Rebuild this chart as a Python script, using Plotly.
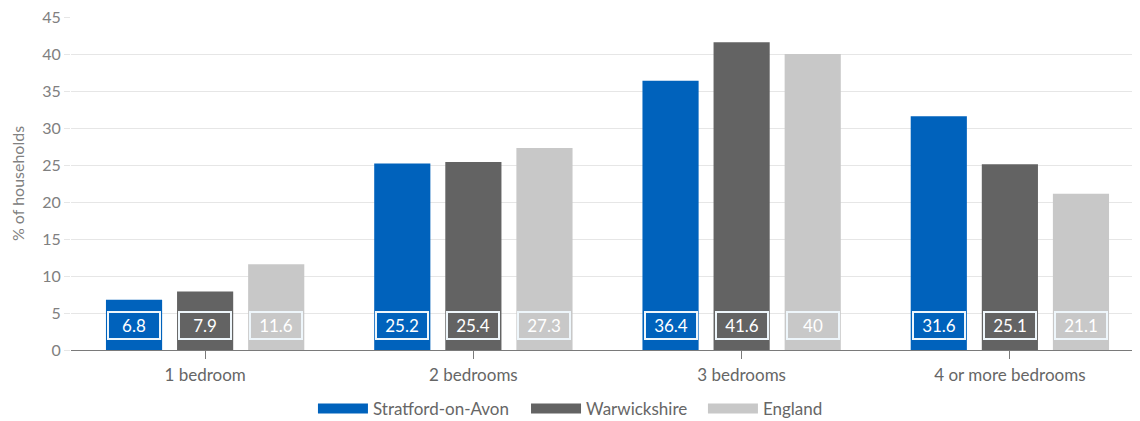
import plotly.graph_objects as go

categories = ["1 bedroom", "2 bedrooms", "3 bedrooms", "4 or more bedrooms"]
series_names = ["Stratford-on-Avon", "Warwickshire", "England"]
stratford = [6.8, 25.2, 36.4, 31.6]
warwickshire = [7.9, 25.4, 41.6, 25.1]
england = [11.6, 27.3, 40, 21.1]
y_ticks = [0, 5, 10, 15, 20, 25, 30, 35, 40, 45]

colors = ["#0062bc", "#636363", "#c8c8c8"]
all_values = [stratford, warwickshire, england]
legend_ids = ["legend", "legend2", "legend3"]
legend_x = [0.2675, 0.4544, 0.6096]

FONT = "Lato, 'Open Sans', sans-serif"

fig = go.Figure()
for name, vals, col in zip(series_names, all_values, colors):
    fig.add_trace(go.Bar(x=categories, y=vals, name=name, marker_color=col,
                         marker_line_width=0, hoverinfo="x+y+name", showlegend=False,
                         legendgroup=name))
# legend entries drawn as wide swatches, one legend per entry for exact spacing
for name, col, lid in zip(series_names, colors, legend_ids):
    fig.add_trace(go.Scatter(x=[None], y=[None], mode="lines", name=name,
                             line=dict(color=col, width=14), legendgroup=name,
                             legend=lid, hoverinfo="skip"))

slot = 71
for i, (vals, col) in enumerate(zip(all_values, colors)):
    for cat, v in zip(categories, vals):
        fig.add_annotation(x=cat, y=0, xref="x", yref="y", text=f"{v:g}",
                           showarrow=False, xshift=(i - 1) * slot, yanchor="bottom",
                           yshift=10, bgcolor=col, bordercolor="#eef6fb", borderwidth=2,
                           borderpad=2, width=46,
                           font=dict(family=FONT, size=17, color="#ffffff"))

legend_style = dict(orientation="h", xref="container", xanchor="left", yref="container",
                    y=0.0475, yanchor="middle",
                    font=dict(family=FONT, size=17, color="#666666"),
                    itemwidth=50, bgcolor="rgba(0,0,0,0)")

fig.update_layout(
    width=1140, height=421,
    margin=dict(l=63, r=4, t=9, b=79),
    paper_bgcolor="white", plot_bgcolor="white",
    barmode="group", bargap=0.205, bargroupgap=0.21,
    font=dict(family=FONT, size=16, color="#666666"),
    showlegend=True,
)
for lid, lx in zip(legend_ids, legend_x):
    fig.update_layout({lid: dict(legend_style, x=lx)})

fig.update_xaxes(showline=True, linecolor="#7a7a7a", linewidth=1, ticks="outside",
                 tickcolor="#7a7a7a", ticklen=8, tickfont=dict(size=17, color="#666666"),
                 ticklabelstandoff=2, showgrid=False, automargin=False)
fig.update_yaxes(range=[0, 45], tickvals=y_ticks, showgrid=True, gridcolor="#e6e6e6",
                 zeroline=False, tickfont=dict(size=16, color="#808080"),
                 ticklabeloverflow="allow",
                 title=dict(text="% of households", font=dict(size=16, color="#808080"), standoff=13),
                 ticks="outside", ticklen=6, tickcolor="#e6e6e6", automargin=False)

fig.write_html("out.html")
